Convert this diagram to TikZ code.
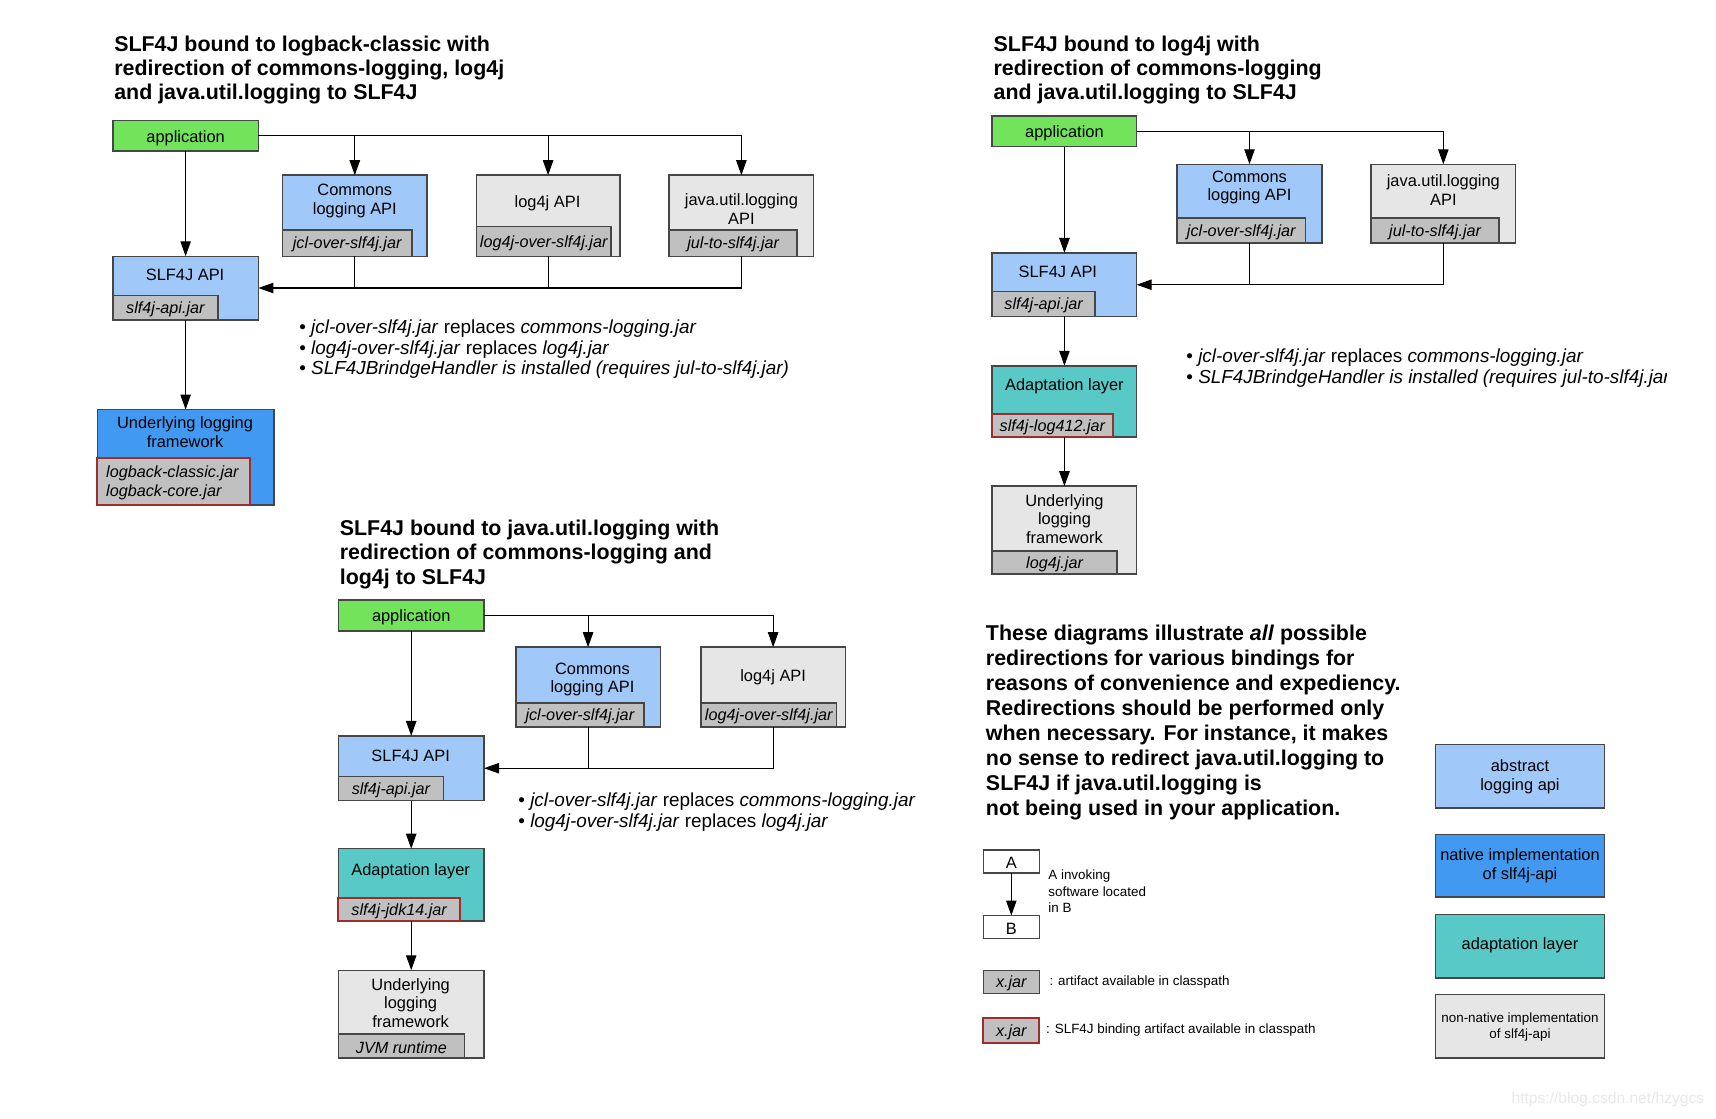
\documentclass[tikz,border=0pt]{standalone}
\usepackage{fontspec}
\setmainfont{Liberation Sans}
\usetikzlibrary{arrows.meta,calc}
\definecolor{cgreen}{RGB}{114,227,90}
\definecolor{clblue}{RGB}{160,200,248}
\definecolor{cblue}{RGB}{66,153,242}
\definecolor{cteal}{RGB}{88,201,198}
\definecolor{clgray}{RGB}{230,230,230}
\definecolor{cjgray}{RGB}{192,192,192}
\definecolor{credb}{RGB}{160,45,45}
\definecolor{cbord}{RGB}{70,70,70}
\definecolor{cwm}{RGB}{232,232,232}
\tikzset{
  bx/.style n args={2}{draw=cbord, line width=0.75pt, minimum width={#1*0.5476pt}, minimum height={#2*0.5476pt}, anchor=north west, inner sep=0pt, outer sep=0pt},
  jtxt/.style={inner sep=0pt, yshift=-0.8pt, font=\fontsize{8.1}{9.35}\selectfont\itshape},
  jarbox/.style n args={3}{draw=cbord, fill=cjgray, line width=0.75pt, minimum width={#1*0.5476pt}, minimum height={#2*0.5476pt}, anchor=south west, inner sep=0pt, outer sep=0pt, label={[jtxt]center:{#3}}},
  redjar/.style={draw=credb, line width=1pt},
  lbl/.style={align=center, inner sep=0pt, yshift=-1pt, font=\fontsize{8.2}{9.35}\selectfont},
  ttl/.style={anchor=west, align=left, inner sep=0pt, font=\fontsize{10.7}{12.2}\selectfont\bfseries},
  bul/.style={anchor=west, align=left, inner sep=0pt, yshift=-1pt, font=\fontsize{9.45}{10.45}\selectfont},
  small/.style={anchor=west, align=left, inner sep=0pt, font=\fontsize{6.7}{8.25}\selectfont},
  ln/.style={draw=black, line width=0.55pt},
  arr/.style={ln, -{Triangle[length=7.5pt,width=5.2pt]}},
}
\begin{document}
\begin{tikzpicture}[x=0.5476pt, y=-0.5476pt]
\useasboundingbox (0,0) rectangle (1567,1021);
\fill[white] (0,0) rectangle (1567,1021);

% ===== Diagram 1 =====
\node[ttl] (t1) at (104,64) {SLF4J bound to logback-classic with\\redirection of commons-logging, log4j\\and java.util.logging to SLF4J};
\node[bx={133}{28}, fill=cgreen] (app1) at (103,110) {};
\node[lbl] at (app1.center) {application};
\node[bx={132}{74}, fill=clblue] (c1) at (258,160) {};
\node[lbl] at (324,181.5) {Commons\\logging API};
\node[jarbox={118}{24}{jcl-over-slf4j.jar}] (c1j) at (c1.south west) {};
\node[bx={131}{74}, fill=clgray] (l1) at (435,160) {};
\node[lbl] at (500,184) {log4j API};
\node[jarbox={123}{27}{log4j-over-slf4j.jar}] (l1j) at (l1.south west) {};
\node[bx={132}{74}, fill=clgray] (j1) at (611,160) {};
\node[lbl] at (677,189) {java.util.logging\\API};
\node[jarbox={117}{24}{jul-to-slf4j.jar}] (j1j) at (j1.south west) {};
\node[bx={133}{58}, fill=clblue] (api1) at (103,234) {};
\node[lbl] at (169,249) {SLF4J API};
\node[jarbox={96}{22}{slf4j-api.jar}] (api1j) at (api1.south west) {};
\node[bx={161}{87}, fill=cblue] (u1) at (89,374) {};
\node[lbl] at (169,393) {Underlying logging\\framework};
\node[jarbox={139}{43}{}, redjar] (u1j) at (u1.south west) {};
\node[jtxt, align=left, text width={123*0.5476pt}] at (u1j.center) {logback-classic.jar\\logback-core.jar};

\draw[arr] (app1.east) -| (j1.north);
\draw[arr] (app1.east -| c1.north) -- (c1.north);
\draw[arr] (app1.east -| l1.north) -- (l1.north);
\draw[arr] (app1.south) -- (api1.north);
\draw[arr] (j1.south) |- (api1.east);
\draw[ln] (c1.south) -- (c1.south |- api1.east);
\draw[ln] (l1.south) -- (l1.south |- api1.east);
\draw[arr] (api1.south) -- (u1.north);

\node[bul] (b1) at (273,317) {• \textit{jcl-over-slf4j.jar} replaces \textit{commons-logging.jar}\\• \textit{log4j-over-slf4j.jar} replaces \textit{log4j.jar}\\• \textit{SLF4JBrindgeHandler is installed (requires jul-to-slf4j.jar)}};

% ===== Diagram 2 =====
\node[ttl] (t2) at (907,64) {SLF4J bound to log4j with\\redirection of commons-logging\\and java.util.logging to SLF4J};
\node[bx={132}{28}, fill=cgreen] (app2) at (906,106) {};
\node[lbl] at (app2.center) {application};
\node[bx={132}{72}, fill=clblue] (c2) at (1075,150) {};
\node[lbl] at (1141,169.5) {Commons\\logging API};
\node[jarbox={117}{23}{jcl-over-slf4j.jar}] (c2j) at (c2.south west) {};
\node[bx={132}{72}, fill=clgray] (j2) at (1252,150) {};
\node[lbl] at (1318,171.5) {java.util.logging\\API};
\node[jarbox={117}{23}{jul-to-slf4j.jar}] (j2j) at (j2.south west) {};
\node[bx={132}{58}, fill=clblue] (api2) at (906,231) {};
\node[lbl] at (966,246) {SLF4J API};
\node[jarbox={94}{23}{slf4j-api.jar}] (api2j) at (api2.south west) {};
\node[bx={132}{65}, fill=cteal] (ad2) at (906,334) {};
\node[lbl] at (972,351) {Adaptation layer};
\node[jarbox={110}{21}{slf4j-log412.jar}, redjar] (ad2j) at (ad2.south west) {};
\node[bx={132}{80}, fill=clgray] (u2) at (906,444) {};
\node[lbl] at (972,472) {Underlying\\logging\\framework};
\node[jarbox={114}{21}{log4j.jar}] (u2j) at (u2.south west) {};

\draw[arr] (app2.east) -| (j2.north);
\draw[arr] (app2.east -| c2.north) -- (c2.north);
\draw[arr] (app2.south) -- (api2.north);
\draw[arr] (j2.south) |- (api2.east);
\draw[ln] (c2.south) -- (c2.south |- api2.east);
\draw[arr] (api2.south) -- (ad2.north);
\draw[arr] (ad2.south) -- (u2.north);

\begin{scope}
\clip (1000,300) rectangle (1522,370);
\node[bul] (b2) at (1083,334.5) {• \textit{jcl-over-slf4j.jar} replaces \textit{commons-logging.jar}\\• \textit{SLF4JBrindgeHandler is installed (requires jul-to-slf4j.jar)}};
\end{scope}

% ===== Diagram 3 =====
\node[ttl] (t3) at (310,506) {SLF4J bound to java.util.logging with\\redirection of commons-logging and\\log4j to SLF4J};
\node[bx={133}{28}, fill=cgreen] (app3) at (309,548) {};
\node[lbl] at (app3.center) {application};
\node[bx={132}{73}, fill=clblue] (c3) at (471,591) {};
\node[lbl] at (541,618.5) {Commons\\logging API};
\node[jarbox={117}{22}{jcl-over-slf4j.jar}] (c3j) at (c3.south west) {};
\node[bx={132}{73}, fill=clgray] (l3) at (640,591) {};
\node[lbl] at (706,617) {log4j API};
\node[jarbox={124}{22}{log4j-over-slf4j.jar}] (l3j) at (l3.south west) {};
\node[bx={133}{59}, fill=clblue] (api3) at (309,672) {};
\node[lbl] at (375,688) {SLF4J API};
\node[jarbox={96}{22}{slf4j-api.jar}] (api3j) at (api3.south west) {};
\node[bx={133}{66}, fill=cteal] (ad3) at (309,775) {};
\node[lbl] at (375,794) {Adaptation layer};
\node[jarbox={111}{21}{slf4j-jdk14.jar}, redjar] (ad3j) at (ad3.south west) {};
\node[bx={133}{80}, fill=clgray] (u3) at (309,886) {};
\node[lbl] at (375,914) {Underlying\\logging\\framework};
\node[jarbox={115}{22}{JVM runtime}] (u3j) at (u3.south west) {};

\draw[arr] (app3.east) -| (l3.north);
\draw[arr] (app3.east -| c3.north) -- (c3.north);
\draw[arr] (app3.south) -- (api3.north);
\draw[arr] (l3.south) |- (api3.east);
\draw[ln] (c3.south) -- (c3.south |- api3.east);
\draw[arr] (api3.south) -- (ad3.north);
\draw[arr] (ad3.south) -- (u3.north);

\node[bul] (b3) at (473,739.5) {• \textit{jcl-over-slf4j.jar} replaces \textit{commons-logging.jar}\\• \textit{log4j-over-slf4j.jar} replaces \textit{log4j.jar}};

% ===== Legend =====
\node[anchor=west, align=left, inner sep=0pt, font=\fontsize{10.7}{12.5}\selectfont\bfseries] (leg) at (900,659.5) {These diagrams illustrate \textit{all} possible\\redirections for various bindings for\\reasons of convenience and expediency.\\Redirections should be performed only\\when necessary. For instance, it makes\\no sense to redirect java.util.logging to\\SLF4J if java.util.logging is\\not being used in your application.};

\node[bx={51}{21}, fill=white] (la) at (898,776) {};
\node[lbl] at (la.center) {A};
\node[bx={51}{21}, fill=white] (lb) at (898,836) {};
\node[lbl] at (lb.center) {B};
\draw[arr] (la.south) -- (lb.north);
\node[small] (ltxt) at (957,814) {A invoking\\software located\\in B};

\node[jarbox={51}{21}{x.jar}, anchor=north west] (lx1) at (898,886) {};
\node[small] (lx1t) at (958,896.5) {: artifact available in classpath};
\node[jarbox={51}{22}{x.jar}, anchor=north west, redjar] (lx2) at (898,930) {};
\node[small] (lx2t) at (955,941) {: SLF4J binding artifact available in classpath};

\node[bx={154}{58}, fill=clblue] (k1) at (1311,680) {};
\node[lbl] at (1388,707.5) {abstract\\logging api};
\node[bx={154}{57}, fill=cblue] (k2) at (1311,762) {};
\node[lbl] at (1388,788.5) {native implementation\\of slf4j-api};
\node[bx={154}{58}, fill=cteal] (k3) at (1311,835) {};
\node[lbl] at (1388,861) {adaptation layer};
\node[bx={154}{58}, fill=clgray] (k4) at (1311,908) {};
\node[lbl, font=\fontsize{6.7}{7.7}\selectfont] at (1388,936) {non-native implementation\\of slf4j-api};

\node[anchor=west, inner sep=0pt, text=cwm, font=\fontsize{7.8}{9}\selectfont] (wm) at (1380,1004) {https://blog.csdn.net/hzygcs};
\end{tikzpicture}
\end{document}
